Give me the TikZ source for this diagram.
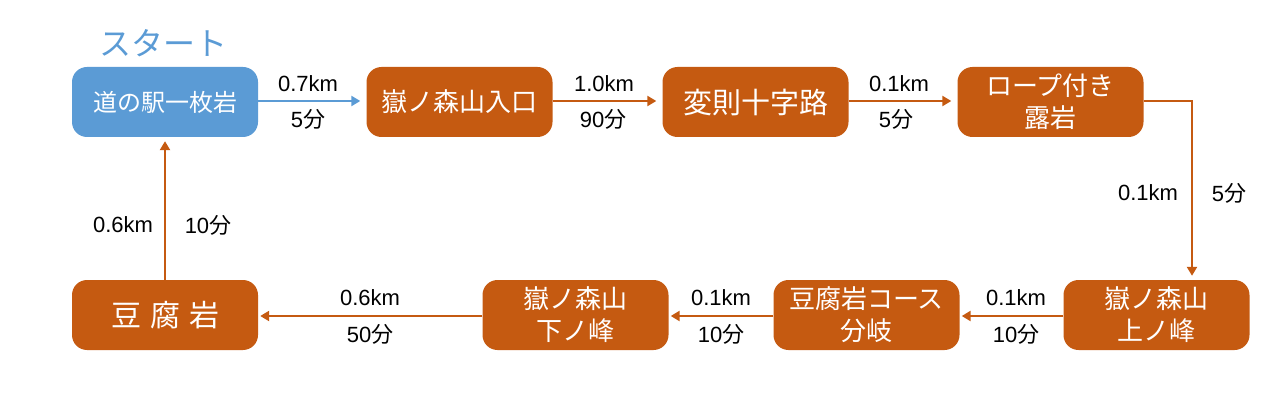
\documentclass[tikz,border=0pt]{standalone}
\usepackage{fontspec}
\setmainfont{Liberation Sans}
\newfontfamily\jp{Noto Sans CJK JP}
\usetikzlibrary{arrows.meta}
\definecolor{cblue}{HTML}{5B9BD5}
\definecolor{corange}{HTML}{C55A11}
\tikzset{
  box/.style={rounded corners=15pt, minimum width=186pt, minimum height=70pt, inner sep=0pt,
    text=white, align=center, font=\jp\fontsize{26}{32}\selectfont},
  obox/.style={box, fill=corange},
  bbox/.style={box, fill=cblue},
  conn/.style={line width=2.8pt, -{Triangle[length=9pt,width=10pt]}},
  oconn/.style={conn, draw=corange},
  bconn/.style={conn, draw=cblue},
  gap/.style={shorten >=6pt},
  lbl/.style={font=\fontsize{22}{24}\selectfont, inner sep=0pt}
}
\newcommand{\fen}{{\jp 分}}
\begin{document}
\begin{tikzpicture}[x=1pt,y=-1pt]
\useasboundingbox (0,0) rectangle (1280,406);
\node[text=cblue, font=\jp\fontsize{32}{34}\selectfont, inner sep=0pt] (start) at (163,43) {スタート};
\node[bbox, font=\jp\fontsize{24}{32}\selectfont] (n1) at (165,102) {道の駅一枚岩};
\node[obox] (n2) at (459.5,102) {嶽ノ森山入口};
\node[obox, font=\jp\fontsize{29}{32}\selectfont] (n3) at (755.5,102) {変則十字路};
\node[obox] (n4) at (1050.5,102) {ロープ付き\\露岩};
\node[obox] (n5) at (1156.5,315) {嶽ノ森山\\上ノ峰};
\node[obox] (n6) at (866.5,315) {豆腐岩コース\\分岐};
\node[obox] (n7) at (575.5,315) {嶽ノ森山\\下ノ峰};
\node[obox, font=\jp\fontsize{30}{32}\selectfont] (n8) at (165,315) {豆\hspace{9pt}腐\hspace{9pt}岩};
\coordinate (c1) at (1192,101);
\draw[bconn, gap] (n1.east |- 0,101) -- (n2.west |- 0,101);
\draw[oconn, gap] (n2.east |- 0,101) -- (n3.west |- 0,101);
\draw[oconn, gap] (n3.east |- 0,101) -- (n4.west |- 0,101);
\draw[oconn, shorten >=4pt] (n4.east |- c1) -- (c1) -- (c1 |- n5.north);
\draw[oconn, shorten >=2pt] (n5.west |- 0,316) -- (n6.east |- 0,316);
\draw[oconn, shorten >=2pt] (n6.west |- 0,316) -- (n7.east |- 0,316);
\draw[oconn, shorten >=2pt] (n7.west |- 0,316) -- (n8.east |- 0,316);
\draw[oconn, shorten >=4pt] (n8.north) -- (n1.south);
\node[lbl] (l1a) at (308,84) {0.7km};
\node[lbl] (l1b) at (308,119) {5\fen};
\node[lbl] (l2a) at (604,84) {1.0km};
\node[lbl] (l2b) at (603,119) {90\fen};
\node[lbl] (l3a) at (899,84) {0.1km};
\node[lbl] (l3b) at (896,119) {5\fen};
\node[lbl] (l4a) at (1148,193) {0.1km};
\node[lbl] (l4b) at (1229,193) {5\fen};
\node[lbl] (l5a) at (1016,298) {0.1km};
\node[lbl] (l5b) at (1016,334) {10\fen};
\node[lbl] (l6a) at (721,298) {0.1km};
\node[lbl] (l6b) at (721,334) {10\fen};
\node[lbl] (l7a) at (370,298) {0.6km};
\node[lbl] (l7b) at (370,334) {50\fen};
\node[lbl] (l8a) at (123,225) {0.6km};
\node[lbl] (l8b) at (208,225) {10\fen};
\end{tikzpicture}
\end{document}
